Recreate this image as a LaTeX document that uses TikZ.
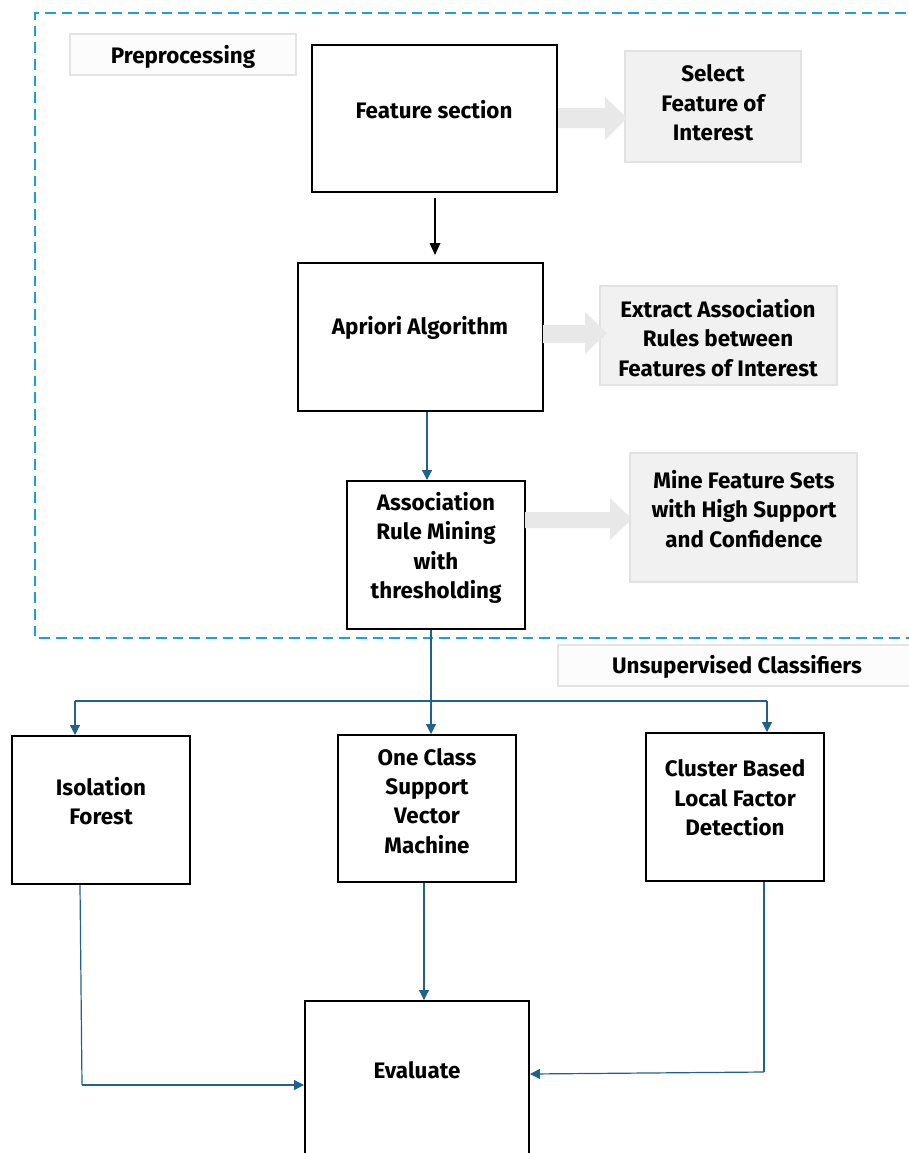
\documentclass[tikz,border=0pt]{standalone}
\usepackage{fontspec}
\setmainfont{Fira Sans}
\usetikzlibrary{fit,arrows.meta}
\definecolor{dashblue}{RGB}{28,160,220}
\definecolor{linkblue}{RGB}{31,99,140}
\definecolor{panelfill}{RGB}{241,241,241}
\definecolor{panelline}{RGB}{226,226,226}
\definecolor{labelfill}{RGB}{252,252,252}
\definecolor{labelline}{RGB}{228,228,228}
\definecolor{blockarrow}{RGB}{232,232,232}
\begin{document}
\begin{tikzpicture}[x=0.75pt,y=-0.75pt,
  box/.style={draw=black,line width=1.5pt,inner sep=0pt},
  panel/.style={draw=panelline,fill=panelfill,line width=1pt,inner sep=0pt},
  tag/.style={draw=labelline,fill=labelfill,line width=1.2pt,inner sep=0pt},
  txt/.style={font=\bfseries\fontsize{16.8}{22}\selectfont,align=center,inner sep=0pt},
  link/.style={draw=linkblue,line width=0.9pt},
  linkarrow/.style={link,-{Triangle[length=7.5pt,width=7.5pt]}},
  blk/.style={fill=blockarrow,draw=none}]
\useasboundingbox (0,0) rectangle (909,1153);
% dashed preprocessing frame
\draw[dashblue,line width=1.6pt,dash pattern=on 8pt off 4.5pt] (950,638) -- (35,638) -- (35,13) -- (950,13);
% labels
\node[tag,fit={(70,34) (296,75)}] (pre) {};
\node[txt] (pret) at (183,57) {Preprocessing};
\node[tag,fit={(558,645) (915,686)}] (uns) {};
\node[txt] (unst) at (737,667) {Unsupervised Classifiers};
% main boxes
\node[box,fit={(312,45) (557,192)}] (fs) {};
\node[txt] (fst) at (434,110) {Feature section};
\node[box,fit={(298,263) (543,411)}] (ap) {};
\node[txt] (apt) at (420,328) {Apriori Algorithm};
\node[box,fit={(347,481) (525,629)}] (arm) {};
\node[txt] (armt) at (436,548) {Association\\Rule Mining\\with\\thresholding};
% side panels
\node[panel,fit={(625,51) (801,162)}] (sel) {};
\node[txt] (selt) at (713,103) {Select\\Feature of\\Interest};
\node[panel,fit={(600,286) (837,385)}] (ext) {};
\node[txt] (extt) at (718,338) {Extract Association\\Rules between\\Features of Interest};
\node[panel,fit={(630,453) (857,582)}] (mine) {};
\node[txt] (minet) at (744,509) {Mine Feature Sets\\with High Support\\and Confidence};
% block arrows
\fill[blk] (558,108) -- (605,108) -- (605,97) -- (627,118) -- (605,140) -- (605,128) -- (558,128) -- cycle;
\fill[blk] (543,325) -- (585,325) -- (585,312) -- (607,333) -- (585,354) -- (585,343) -- (543,343) -- cycle;
\fill[blk] (525,512) -- (610,512) -- (610,498) -- (632,519) -- (610,540) -- (610,528) -- (525,528) -- cycle;
% classifiers
\node[box,fit={(12,736) (190,884)}] (iso) {};
\node[txt] (isot) at (101,801) {Isolation\\Forest};
\node[box,fit={(338,735) (516,882)}] (svm) {};
\node[txt] (svmt) at (427,801) {One Class\\Support\\Vector\\Machine};
\node[box,fit={(646,733) (824,881)}] (clu) {};
\node[txt] (clut) at (735,798) {Cluster Based\\Local Factor\\Detection};
\node[box,fit={(305,1001) (529,1170)}] (ev) {};
\node[txt] (evt) at (417,1070) {Evaluate};
% connectors
\draw[black,line width=0.9pt,-{Triangle[length=9pt,width=8pt]}] (435,198) -- (435,255);
\draw[linkarrow] (ap.south -| 427,0) -- (arm.north -| 427,0);
\draw[linkarrow] (arm.south -| 431,0) -- (svm.north -| 431,0);
\coordinate (hl) at (75,701);
\coordinate (hr) at (767,701);
\draw[link] (hl) -- (hr);
\draw[linkarrow] (hl) -- (iso.north -| hl);
\draw[linkarrow] (hr) -- (clu.north -| hr);
\coordinate (lb) at (82,1085);
\draw[link] (iso.south -| 80,0) -- (lb);
\draw[linkarrow] (lb) -- (ev.west |- lb);
\draw[linkarrow] (svm.south -| 424,0) -- (ev.north -| 424,0);
\coordinate (rb) at (764,1072);
\draw[link] (clu.south -| rb) -- (rb);
\draw[linkarrow] (rb) -- (ev.east |- 0,1074);
\end{tikzpicture}
\end{document}
